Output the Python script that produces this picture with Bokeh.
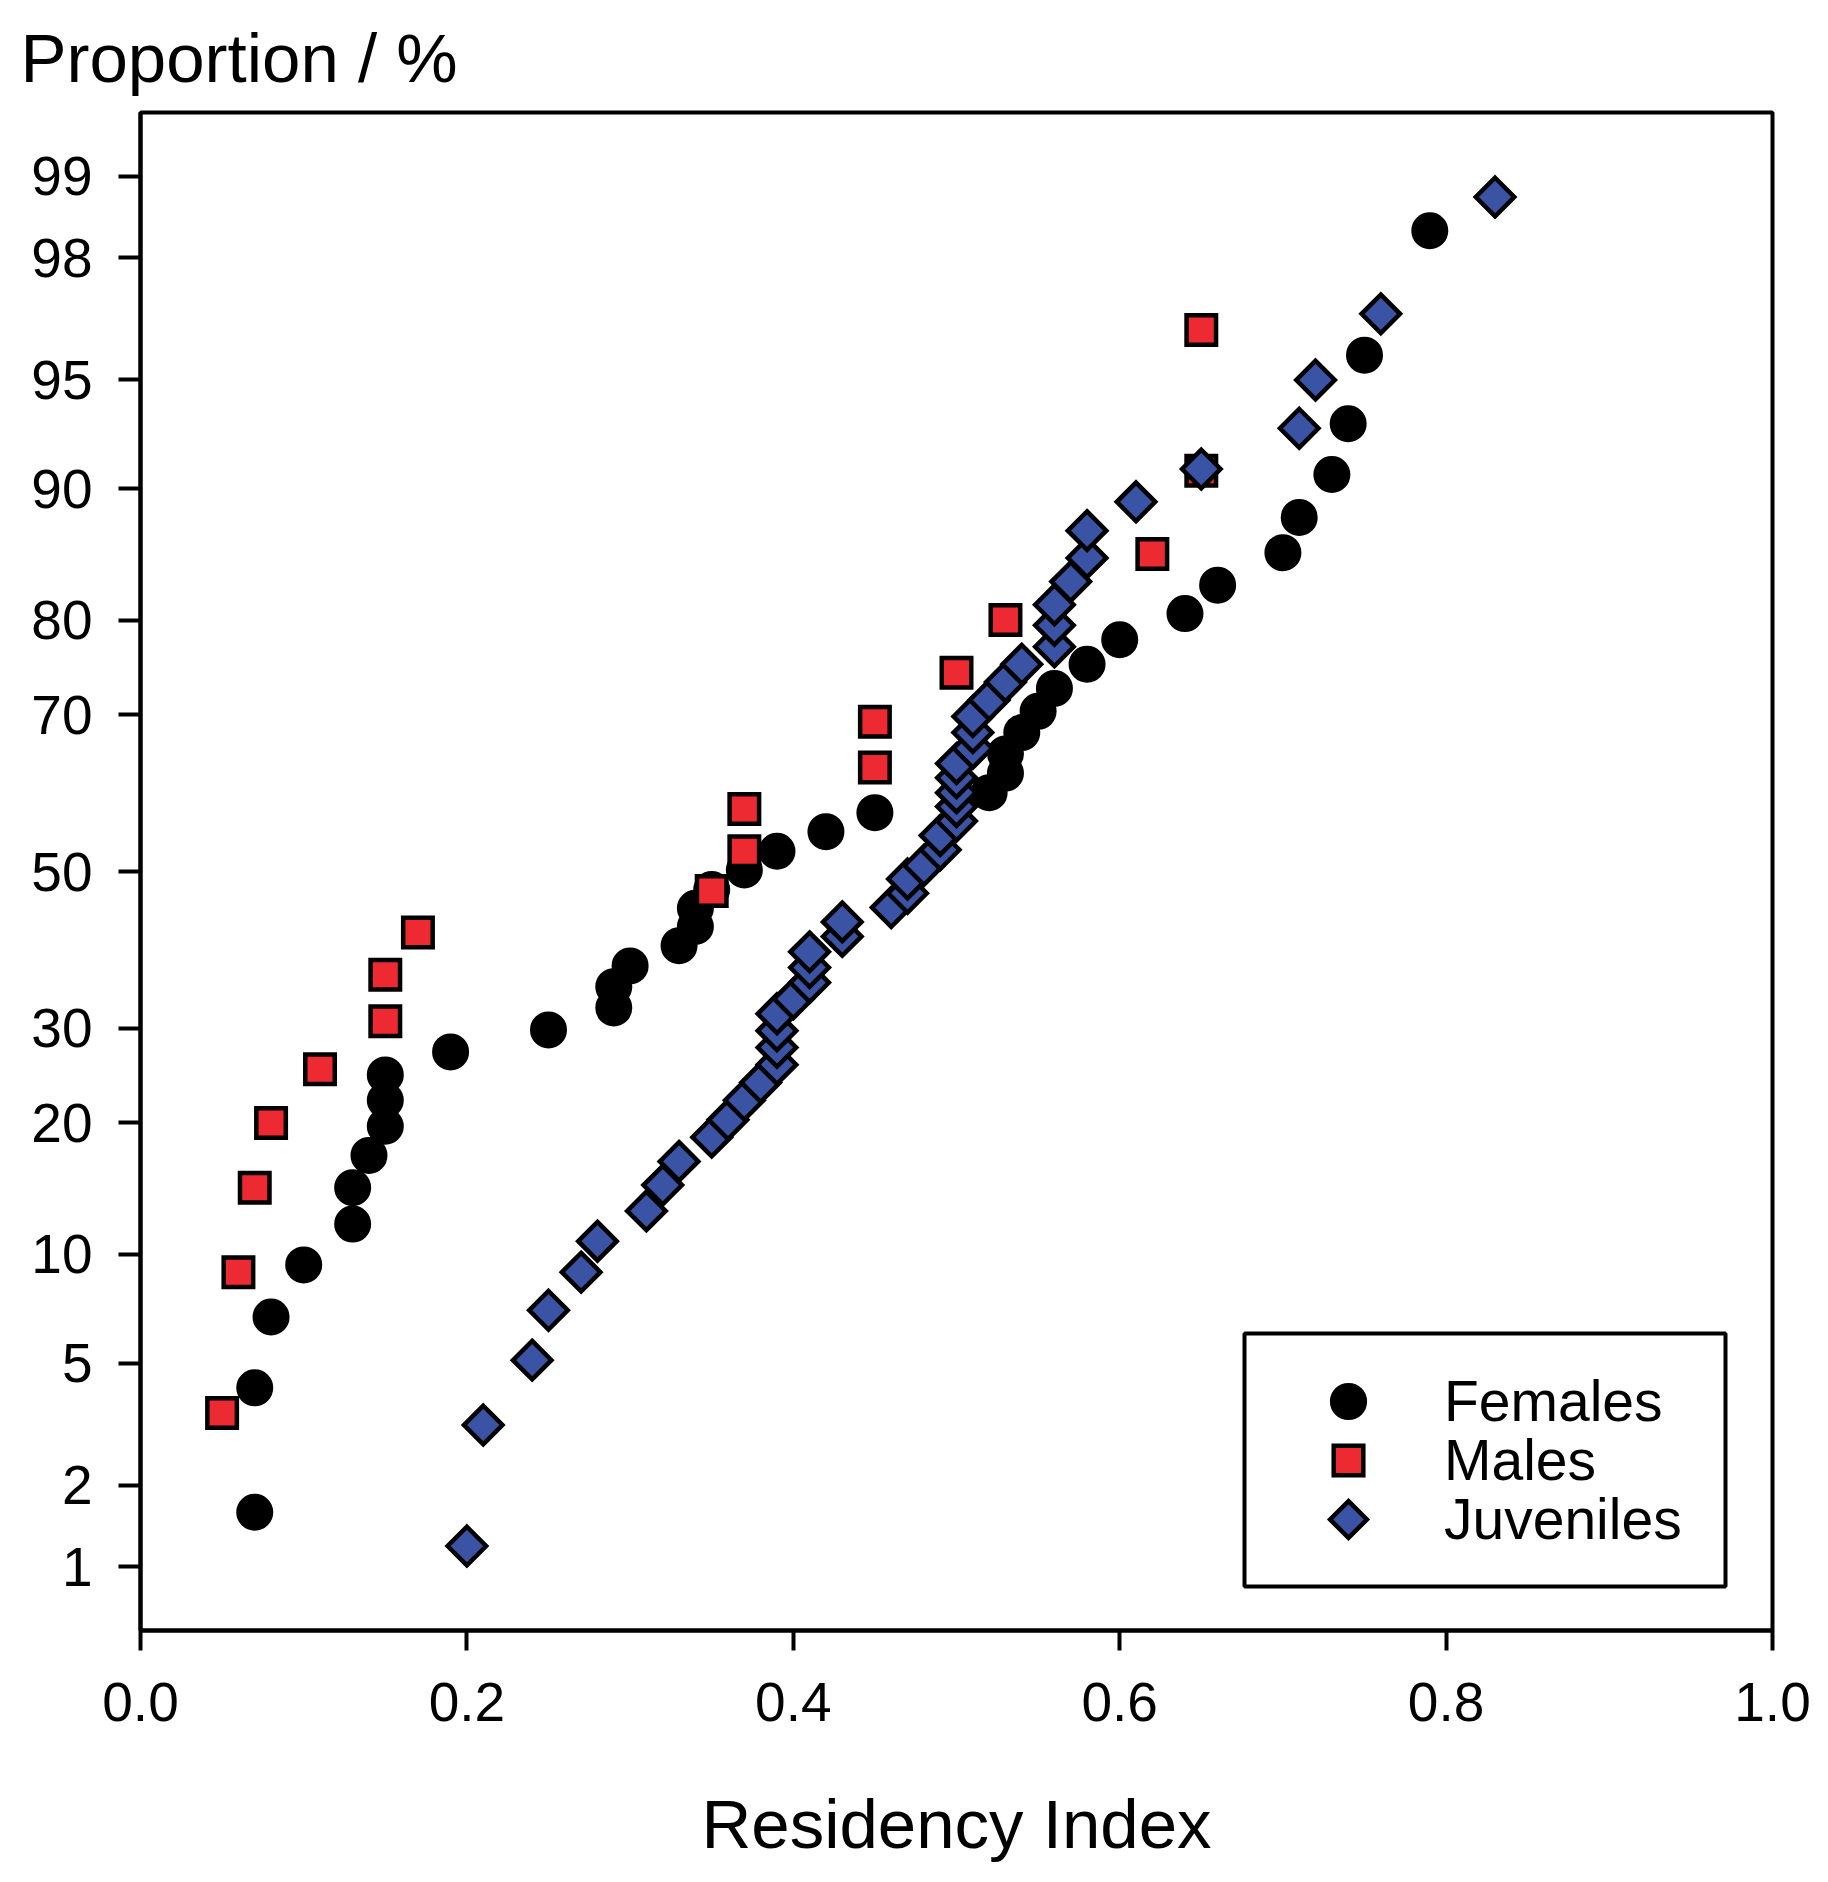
from statistics import NormalDist

from bokeh.plotting import figure
from bokeh.models import (Range1d, FixedTicker, PrintfTickFormatter, Legend,
                          LegendItem, CustomJS, BoxAnnotation)
from bokeh.embed import file_html
from bokeh.resources import INLINE

# residency index (x) and cumulative proportion in % (y)
females_ri = [0.07, 0.07, 0.08, 0.10, 0.13, 0.13, 0.14, 0.15, 0.15, 0.15,
              0.19, 0.25, 0.29, 0.29, 0.30, 0.33, 0.34, 0.34, 0.35, 0.37,
              0.39, 0.42, 0.45, 0.52, 0.53, 0.53, 0.54, 0.55, 0.56, 0.58,
              0.60, 0.64, 0.66, 0.70, 0.71, 0.73, 0.74, 0.75, 0.79]
females_pct = [1.6, 4.2, 6.8, 9.4, 11.9, 14.5, 17.1, 19.7, 22.2, 24.8,
               27.3, 29.8, 32.4, 35.0, 37.6, 40.2, 42.7, 45.1, 47.6, 50.2,
               52.7, 55.3, 57.8, 60.4, 62.9, 65.3, 67.9, 70.4, 73.0, 75.6,
               78.1, 80.6, 83.1, 85.7, 88.2, 90.8, 93.3, 95.8, 98.4]

males_ri = [0.05, 0.06, 0.07, 0.08, 0.11, 0.15, 0.15, 0.17, 0.35, 0.37,
            0.37, 0.45, 0.45, 0.50, 0.53, 0.62, 0.65, 0.65]
males_pct = [3.5, 9.0, 14.5, 20.0, 25.4, 30.8, 36.5, 41.9, 47.4, 52.7,
             58.3, 63.6, 69.2, 74.7, 80.0, 85.6, 91.0, 96.5]

juveniles_ri = [0.20, 0.21, 0.24, 0.25, 0.27, 0.28, 0.31, 0.32, 0.33, 0.35,
                0.36, 0.37, 0.38, 0.39, 0.39, 0.39, 0.39, 0.40, 0.41, 0.41,
                0.41, 0.43, 0.43, 0.46, 0.47, 0.47, 0.48, 0.49, 0.49, 0.50,
                0.50, 0.50, 0.50, 0.50, 0.51, 0.51, 0.51, 0.52, 0.53, 0.54,
                0.56, 0.56, 0.56, 0.57, 0.58, 0.58, 0.61, 0.65, 0.71, 0.72,
                0.76, 0.83]
juveniles_pct = [1.2, 3.2, 5.1, 7.1, 9.0, 10.8, 12.8, 14.7, 16.6, 18.7,
                 20.3, 22.2, 24.0, 25.9, 27.8, 29.7, 31.7, 33.5, 35.5, 37.4,
                 39.4, 41.4, 43.3, 45.2, 47.1, 49.0, 50.8, 52.9, 54.8, 56.7,
                 58.6, 60.4, 62.3, 64.1, 66.0, 67.9, 69.8, 71.7, 73.7, 75.6,
                 77.4, 79.5, 81.4, 83.4, 85.3, 87.3, 89.2, 91.1, 93.1, 95.0,
                 96.9, 98.8]

prob_ticks = [1, 2, 5, 10, 20, 30, 50, 70, 80, 90, 95, 98, 99]
x_ticks = [0.0, 0.2, 0.4, 0.6, 0.8, 1.0]
labels = ["Females", "Males", "Juveniles"]

FONT = "Liberation Sans"
RED = "#ED2A32"
BLUE = "#3A53A4"

nd = NormalDist()


def probit(pcts):
    return [nd.inv_cdf(v / 100.0) for v in pcts]


# square diamond (equal width and height), also used by the legend
diamond_def = CustomJS(code="""
export default (args, obj, {ctx, i, r, visuals}) => {
  ctx.moveTo(0, -r)
  ctx.lineTo(r, 0)
  ctx.lineTo(0, r)
  ctx.lineTo(-r, 0)
  ctx.closePath()
  visuals.fill.apply(ctx, i)
  visuals.line.apply(ctx, i)
}
""")

p = figure(width=1828, height=1882, title="Proportion / %",
           x_range=Range1d(0, 1), y_range=Range1d(-2.54, 2.54),
           output_backend="svg", toolbar_location=None,
           min_border_left=140, min_border_right=56,
           min_border_top=112, min_border_bottom=252)

p.title.text_font = FONT
p.title.text_font_size = "69px"
p.title.text_font_style = "normal"
p.title.text_color = "black"
p.title.align = "left"
p.title.offset = -120
p.title.standoff = 31

p.grid.visible = False
p.outline_line_color = "black"
p.outline_line_width = 4
p.outline_line_alpha = 1.0

for ax in (p.xaxis[0], p.yaxis[0]):
    ax.axis_line_width = 4
    ax.axis_line_color = "black"
    ax.major_tick_line_width = 4
    ax.major_tick_line_color = "black"
    ax.major_tick_in = 0
    ax.minor_tick_in = 0
    ax.minor_tick_out = 0
    ax.major_label_text_font = FONT
    ax.major_label_text_font_size = "55px"
    ax.major_label_text_color = "black"

p.xaxis.ticker = FixedTicker(ticks=x_ticks, minor_ticks=[])
p.xaxis.formatter = PrintfTickFormatter(format="%.1f")
p.xaxis.major_tick_out = 20
p.xaxis.major_label_standoff = 32
p.xaxis.axis_label = "Residency Index"
p.xaxis.axis_label_text_font = FONT
p.xaxis.axis_label_text_font_size = "69px"
p.xaxis.axis_label_text_font_style = "normal"
p.xaxis.axis_label_text_color = "black"
p.xaxis.axis_label_standoff = 62

y_tick_pos = probit(prob_ticks)
p.yaxis.ticker = FixedTicker(ticks=y_tick_pos, minor_ticks=[])
p.yaxis.major_label_overrides = {z: str(t) for z, t in zip(y_tick_pos, prob_ticks)}
p.yaxis.major_tick_out = 22
p.yaxis.major_label_standoff = 26

rf = p.scatter(females_ri, probit(females_pct), marker="circle", size=35,
               fill_color="black", line_color="black", line_width=2)
rm = p.scatter(males_ri, probit(males_pct), marker="square", size=29.5,
               fill_color=RED, line_color="black", line_width=4.5, line_join="miter")
rj = p.scatter(juveniles_ri, probit(juveniles_pct), marker="@diamond", size=38.5,
               defs={"@diamond": diamond_def}, fill_color=BLUE, line_color="black",
               line_width=4.5, line_join="miter")
renderers = [rf, rm, rj]

# legend frame
box = BoxAnnotation(left=1104, right=1585, bottom=44, top=297,
                    left_units="screen", right_units="screen",
                    bottom_units="screen", top_units="screen",
                    fill_color="white", fill_alpha=1.0,
                    line_color="black", line_width=4, line_alpha=1.0)
p.add_layout(box)

# one legend per row so the symbols keep their full size
rows = [(88, 1164, 185.5, 52), (74, 1171, 133.5, 59), (92, 1162, 65.5, 50)]
for lab, r, (g, lx, ly, gap) in zip(labels, renderers, rows):
    p.add_layout(Legend(items=[LegendItem(label=lab, renderers=[r])],
                        location=(lx, ly), margin=0, padding=0,
                        glyph_width=g, glyph_height=g, label_height=g,
                        label_standoff=gap, label_width=200,
                        label_text_font=FONT, label_text_font_size="57px",
                        label_text_color="black",
                        border_line_alpha=0, background_fill_alpha=0))

open("out.html", "w").write(file_html(p, INLINE))
